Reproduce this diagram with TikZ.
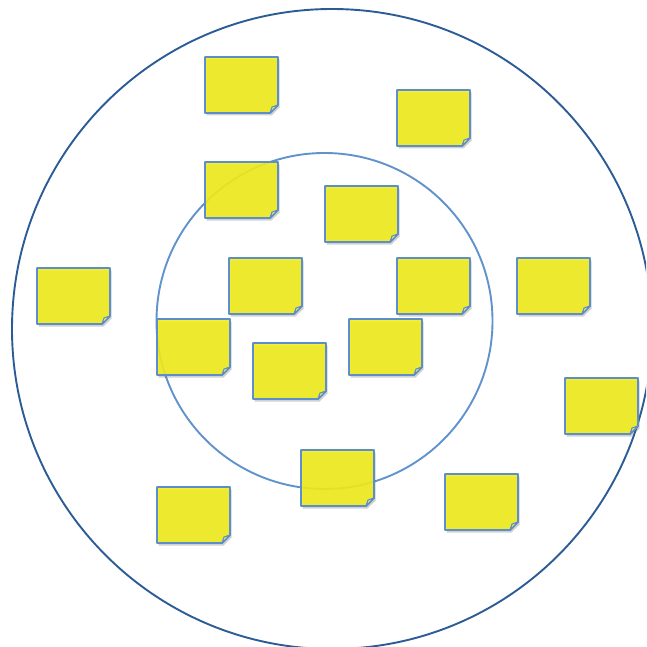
\documentclass[tikz,border=0pt]{standalone}
\usetikzlibrary{shadows,calc}
\definecolor{noteyellow}{RGB}{240,236,30}
\definecolor{noteedge}{RGB}{92,142,204}
\definecolor{outerblue}{RGB}{44,92,150}
\definecolor{innerblue}{RGB}{96,146,204}
\tikzset{
  notebody/.style={fill=noteyellow, draw=noteedge, line width=1.9pt, line join=round, fill opacity=0.9,
     drop shadow={shadow xshift=1.5pt, shadow yshift=-2.5pt, opacity=0.3, fill=black!60}},
  notefold/.style={fill=noteyellow!80!white, draw=noteedge, line width=1.1pt, line join=round},
  ring/.style={line width=1.9pt}
}
\newcommand{\stickynote}[2]{%
  \path[notebody] (#1,#2) -- ++(73,0) -- ++(0,48) -- ++(-8,8) -- ++(-65,0) -- cycle;
  \path[notefold] (#1+65,#2+56) -- (#1+73,#2+48) -- (#1+67,#2+50) -- cycle;
}
\begin{document}
\begin{tikzpicture}[x=1pt,y=-1pt]
\useasboundingbox (0,0) rectangle (646,647);
\begin{scope}
\clip (0,0) rectangle (646,647);
\draw[ring, draw=outerblue] (332,329) circle[radius=320];
\end{scope}
\draw[ring, draw=innerblue] (324.5,321) circle[radius=168];
\stickynote{205}{57}
\stickynote{397}{90}
\stickynote{205}{162}
\stickynote{325}{186}
\stickynote{37}{268}
\stickynote{229}{258}
\stickynote{397}{258}
\stickynote{517}{258}
\stickynote{157}{319}
\stickynote{349}{319}
\stickynote{253}{343}
\stickynote{565}{378}
\stickynote{301}{450}
\stickynote{445}{474}
\stickynote{157}{487}
\end{tikzpicture}
\end{document}
